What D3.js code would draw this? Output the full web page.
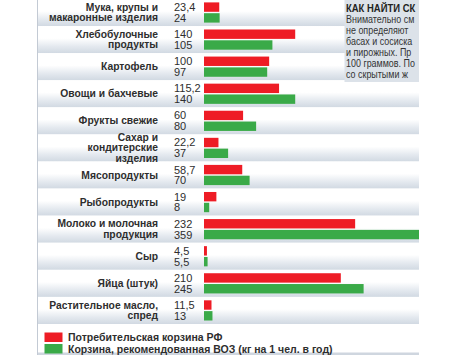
<!DOCTYPE html>
<html>
<head>
<meta charset="utf-8">
<script src="https://cdn.jsdelivr.net/npm/d3@7"></script>
<style>
  html, body { margin: 0; padding: 0; background: #ffffff; }
  svg { display: block; }
</style>
</head>
<body>
<svg id="chart" width="475" height="356"></svg>
<script>
// ---- data ----
const categories = [
  "Мука, крупы и\nмакаронные изделия",
  "Хлебобулочные\nпродукты",
  "Картофель",
  "Овощи и бахчевые",
  "Фрукты свежие",
  "Сахар и\nкондитерские\nизделия",
  "Мясопродукты",
  "Рыбопродукты",
  "Молоко и молочная\nпродукция",
  "Сыр",
  "Яйца (штук)",
  "Растительное масло,\nспред"
];
const basketRF  = [23.4, 140, 100, 115.2, 60, 22.2, 58.7, 19, 232, 4.5, 210, 11.5];
const basketWHO = [24, 105, 97, 140, 80, 37, 70, 8, 359, 5.5, 245, 13];
const seriesNames = [
  "Потребительская корзина РФ",
  "Корзина, рекомендованная ВОЗ (кг на 1 чел. в год)"
];
const boxTitle = "КАК НАЙТИ СК";
const boxLines = [
  "Внимательно см",
  "не определяют",
  "басах и сосиска",
  "и пирожных. Пр",
  "100 граммов. По",
  "со скрытыми ж"
];

// ---- styles ----
const RED = "#ee1c25", GREEN = "#3aaa48", TEXT = "#2e2e2e";
const panelL = 37.5, panelR = 419, barX0 = 204;

const svg = d3.select("#chart");
const defs = svg.append("defs");
const grad = defs.append("linearGradient").attr("id", "band")
  .attr("x1", 0).attr("y1", 0).attr("x2", 0).attr("y2", 1);
[[0, "#ffffff"], [0.45, "#ffffff"], [0.75, "#e4e9ef"], [1, "#d1d9e2"]]
  .forEach(([o, c]) => grad.append("stop").attr("offset", o).attr("stop-color", c));
defs.append("clipPath").attr("id", "boxclip")
  .append("rect").attr("x", 344).attr("y", 0).attr("width", panelR - 344).attr("height", 83);

const y = d3.scaleBand().domain(categories).range([-1, 324]).paddingInner(0);
const x = d3.scaleLinear().domain([0, 330]).range([barX0, panelR]).clamp(true);
const fmt = v => String(v).replace(".", ",");

const rows = categories.map((c, i) => ({ c, i, rf: basketRF[i], who: basketWHO[i] }));

// row bands
svg.append("g").selectAll("rect").data(rows).join("rect")
  .attr("x", panelL).attr("width", panelR - panelL)
  .attr("y", d => y(d.c)).attr("height", y.bandwidth())
  .attr("fill", "url(#band)");

// legend area bottom line + left border
svg.append("rect").attr("x", panelL).attr("y", 352.5).attr("width", panelR - panelL).attr("height", 2.5)
  .attr("fill", "#cfd6df");
svg.append("line").attr("x1", panelL).attr("x2", panelL).attr("y1", 0).attr("y2", 355)
  .attr("stroke", "#c3cad4").attr("stroke-width", 1);

// bars
const bh = 9.4;
const g = svg.append("g");
g.selectAll("rect.rf").data(rows).join("rect").attr("class", "rf")
  .attr("x", x(0)).attr("y", d => y(d.c) + 3.4)
  .attr("width", d => x(d.rf) - x(0)).attr("height", bh).attr("fill", RED);
g.selectAll("rect.who").data(rows).join("rect").attr("class", "who")
  .attr("x", x(0)).attr("y", d => y(d.c) + 14.2)
  .attr("width", d => x(d.who) - x(0)).attr("height", bh).attr("fill", GREEN);

// values
const valFont = "'Liberation Sans', Arial, sans-serif";
g.selectAll("text.vrf").data(rows).join("text").attr("class", "vrf")
  .attr("x", 174).attr("y", d => y(d.c) + 3.4 + bh / 2)
  .attr("dy", "0.36em").attr("font-family", valFont).attr("font-size", 11)
  .attr("fill", TEXT).text(d => fmt(d.rf));
g.selectAll("text.vwho").data(rows).join("text").attr("class", "vwho")
  .attr("x", 174).attr("y", d => y(d.c) + 14.2 + bh / 2)
  .attr("dy", "0.36em").attr("font-family", valFont).attr("font-size", 11)
  .attr("fill", TEXT).text(d => fmt(d.who));

// category labels
const lab = g.selectAll("text.lab").data(rows).join("text").attr("class", "lab")
  .attr("text-anchor", "end").attr("font-family", valFont).attr("font-weight", "bold")
  .attr("font-size", 10.3).attr("fill", TEXT);
lab.each(function (d) {
  const lines = d.c.split("\n");
  const cy = y(d.c) + 13.3;
  const pitch = 10.8;
  d3.select(this).selectAll("tspan").data(lines).join("tspan")
    .attr("x", 158)
    .attr("y", (l, j) => cy + (j - (lines.length - 1) / 2) * pitch)
    .attr("dy", "0.36em")
    .text(l => l);
});

// legend
const leg = svg.append("g");
seriesNames.forEach((name, i) => {
  const ly = 332.5 + i * 11.5;
  leg.append("rect").attr("x", 44.5).attr("y", ly).attr("width", 18).attr("height", 9.5)
    .attr("fill", i === 0 ? RED : GREEN);
  leg.append("text").attr("x", 68).attr("y", ly + 4.75).attr("dy", "0.36em")
    .attr("font-family", valFont).attr("font-weight", "bold").attr("font-size", 10.5)
    .attr("fill", TEXT).text(name);
});

// side text box
const box = svg.append("g").attr("clip-path", "url(#boxclip)");
box.append("rect").attr("x", 344.5).attr("y", 0).attr("width", panelR - 344.5).attr("height", 82)
  .attr("fill", "#dce2e9");
box.append("text").attr("transform", "translate(346,8) scale(0.86,1)").attr("dy", "0.36em")
  .attr("font-family", valFont).attr("font-weight", "bold").attr("font-size", 11)
  .attr("fill", "#222").text(boxTitle);
box.selectAll("text.bl").data(boxLines).join("text").attr("class", "bl")
  .attr("transform", (d, i) => `translate(346,${19 + i * 11.1}) scale(0.86,1)`)
  .attr("dy", "0.36em")
  .attr("font-family", valFont).attr("font-size", 10.4)
  .attr("fill", "#333").text(d => d);
</script>
</body>
</html>
